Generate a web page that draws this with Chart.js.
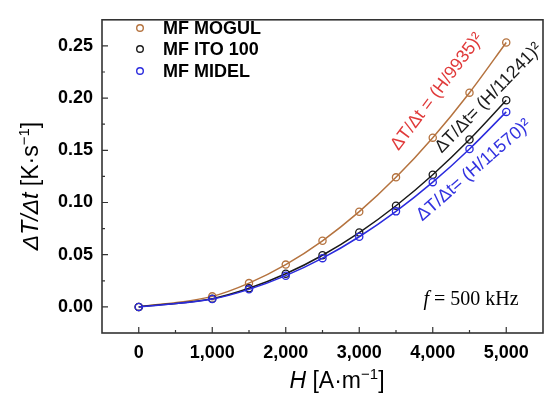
<!DOCTYPE html>
<html>
<head>
<meta charset="utf-8">
<script src="https://cdn.jsdelivr.net/npm/chart.js@4.4.1/dist/chart.umd.min.js"></script>
<style>
  html, body { margin: 0; padding: 0; background: #fff; }
  #wrap { width: 550px; height: 396px; }
</style>
</head>
<body>
<div id="wrap"><canvas id="c"></canvas></div>
<script>
// data
var fieldH = [0, 1000, 1500, 2000, 2500, 3000, 3500, 4000, 4500, 5000];
var mogul  = [0, 0.0101, 0.0228, 0.0405, 0.0633, 0.0912, 0.1241, 0.1621, 0.2052, 0.2533];
var ito100 = [0, 0.0079, 0.0178, 0.0317, 0.0495, 0.0712, 0.0969, 0.1266, 0.1603, 0.1979];
var midel  = [0, 0.0075, 0.0168, 0.0299, 0.0467, 0.0672, 0.0915, 0.1195, 0.1513, 0.1868];
var seriesNames = ['MF MOGUL', 'MF ITO 100', 'MF MIDEL'];
var xTicks = [0, 1000, 2000, 3000, 4000, 5000];
var yTicks = [0, 0.05, 0.10, 0.15, 0.20, 0.25];
var fitLabels = ['\u0394T/\u0394t = (H/9935)\u00b2', '\u0394T/\u0394t= (H/11241)\u00b2', '\u0394T/\u0394t= (H/11570)\u00b2'];

var lineColors = ['#b5733f', '#1a1a1a', '#2b2bde'];
var textColors = ['#e03a3a', '#1a1a1a', '#3232e0'];

function pts(ys) {
    return fieldH.map(function (h, i) { return { x: h, y: ys[i] }; });
}

function series(i, ys) {
    return {
        label: seriesNames[i],
        data: pts(ys),
        borderColor: lineColors[i],
        borderWidth: 1.5,
        pointRadius: 3.6,
        pointBorderWidth: 1.3,
        pointBackgroundColor: 'rgba(0,0,0,0)',
        pointBorderColor: lineColors[i],
        cubicInterpolationMode: 'monotone',
        fill: false
    };
}

// frame, inward ticks, legend, titles and fit labels
var decor = {
    id: 'decor',
    afterDraw: function (chart) {
        var ctx = chart.ctx;
        var a = chart.chartArea;
        var xs = chart.scales.x, ys = chart.scales.y;
        ctx.save();

        ctx.strokeStyle = '#333';
        ctx.lineWidth = 1.6;
        ctx.strokeRect(a.left, a.top, a.right - a.left, a.bottom - a.top);

        ctx.lineWidth = 1.2;
        ctx.beginPath();
        for (var v = 0; v <= 5000; v += 500) {
            var px = xs.getPixelForValue(v);
            var len = (v % 1000 === 0) ? 6 : 3;
            ctx.moveTo(px, a.bottom);
            ctx.lineTo(px, a.bottom - len);
        }
        for (var k = 0; k <= 10; k++) {
            var py = ys.getPixelForValue(k * 0.025);
            var ln = (k % 2 === 0) ? 6 : 3;
            ctx.moveTo(a.left, py);
            ctx.lineTo(a.left + ln, py);
        }
        ctx.stroke();

        // legend
        ctx.font = 'bold 18px "Liberation Sans", Arial, sans-serif';
        ctx.textBaseline = 'middle';
        ctx.textAlign = 'left';
        var legY = [28, 49, 71];
        for (var i = 0; i < 3; i++) {
            ctx.strokeStyle = lineColors[i];
            ctx.lineWidth = 1.4;
            ctx.beginPath();
            ctx.arc(140, legY[i], 3.3, 0, Math.PI * 2);
            ctx.stroke();
            ctx.fillStyle = '#000';
            ctx.fillText(seriesNames[i], 163, legY[i] + 1);
        }

        // fit labels, anchored in data space
        var anchors = [[4060, 0.206, -53], [4760, 0.200, -46], [4560, 0.131, -41]];
        ctx.font = '18px "Liberation Sans", Arial, sans-serif';
        ctx.textAlign = 'center';
        ctx.textBaseline = 'middle';
        for (var j = 0; j < 3; j++) {
            ctx.save();
            ctx.translate(xs.getPixelForValue(anchors[j][0]), ys.getPixelForValue(anchors[j][1]));
            ctx.rotate(anchors[j][2] * Math.PI / 180);
            ctx.fillStyle = textColors[j];
            ctx.fillText(fitLabels[j], 0, 0);
            ctx.restore();
        }

        // f = 500 kHz
        ctx.fillStyle = '#000';
        ctx.textBaseline = 'alphabetic';
        ctx.textAlign = 'left';
        rich(ctx, [
            { t: 'f', f: 'italic 20px "Liberation Serif", serif' },
            { t: ' = 500 kHz', f: '20px "Liberation Serif", serif' }
        ], 471, 305);

        // x title
        rich(ctx, [
            { t: 'H', f: 'italic 23px "Liberation Sans", Arial, sans-serif' },
            { t: ' [A\u00b7m', f: '23px "Liberation Sans", Arial, sans-serif' },
            { t: '\u22121', f: '15px "Liberation Sans", Arial, sans-serif', dy: -9 },
            { t: ']', f: '23px "Liberation Sans", Arial, sans-serif' }
        ], 337, 388);

        // y title
        ctx.save();
        ctx.translate(38, 186);
        ctx.rotate(-Math.PI / 2);
        rich(ctx, [
            { t: '\u0394T/\u0394t', f: 'italic 23px "Liberation Sans", Arial, sans-serif' },
            { t: ' [K\u00b7s', f: '23px "Liberation Sans", Arial, sans-serif' },
            { t: '\u22121', f: '15px "Liberation Sans", Arial, sans-serif', dy: -9 },
            { t: ']', f: '23px "Liberation Sans", Arial, sans-serif' }
        ], 0, 0);
        ctx.restore();

        ctx.restore();
    }
};

function rich(ctx, parts, cx, y) {
    var total = 0;
    parts.forEach(function (p) { ctx.font = p.f; p.w = ctx.measureText(p.t).width; total += p.w; });
    var x = cx - total / 2;
    ctx.textAlign = 'left';
    parts.forEach(function (p) { ctx.font = p.f; ctx.fillText(p.t, x, y + (p.dy || 0)); x += p.w; });
}

var tickFont = { family: '"Liberation Sans", Arial, sans-serif', size: 18, weight: 'bold' };

new Chart(document.getElementById('c'), {
    type: 'line',
    data: {
        datasets: [series(2, midel), series(1, ito100), series(0, mogul)]
    },
    options: {
        responsive: true,
        maintainAspectRatio: false,
        animation: false,
        layout: { padding: { top: 5, right: 7, left: 0, bottom: 0 } },
        plugins: { legend: { display: false }, tooltip: { enabled: false } },
        scales: {
            x: {
                type: 'linear',
                min: -500,
                max: 5500,
                afterBuildTicks: function (s) { s.ticks = xTicks.map(function (v) { return { value: v }; }); },
                afterFit: function (s) { s.height = 63; },
                grid: { display: false, drawTicks: false },
                border: { display: false },
                ticks: {
                    color: '#000',
                    font: tickFont,
                    padding: 9,
                    maxRotation: 0,
                    callback: function (v) { return v.toLocaleString('en-US'); }
                }
            },
            y: {
                min: -0.025,
                max: 0.275,
                afterBuildTicks: function (s) { s.ticks = yTicks.map(function (v) { return { value: v }; }); },
                afterFit: function (s) { s.width = 102; },
                grid: { display: false, drawTicks: false },
                border: { display: false },
                ticks: {
                    color: '#000',
                    font: tickFont,
                    padding: 9,
                    callback: function (v) { return v.toFixed(2); }
                }
            }
        }
    },
    plugins: [decor]
});
</script>
</body>
</html>
